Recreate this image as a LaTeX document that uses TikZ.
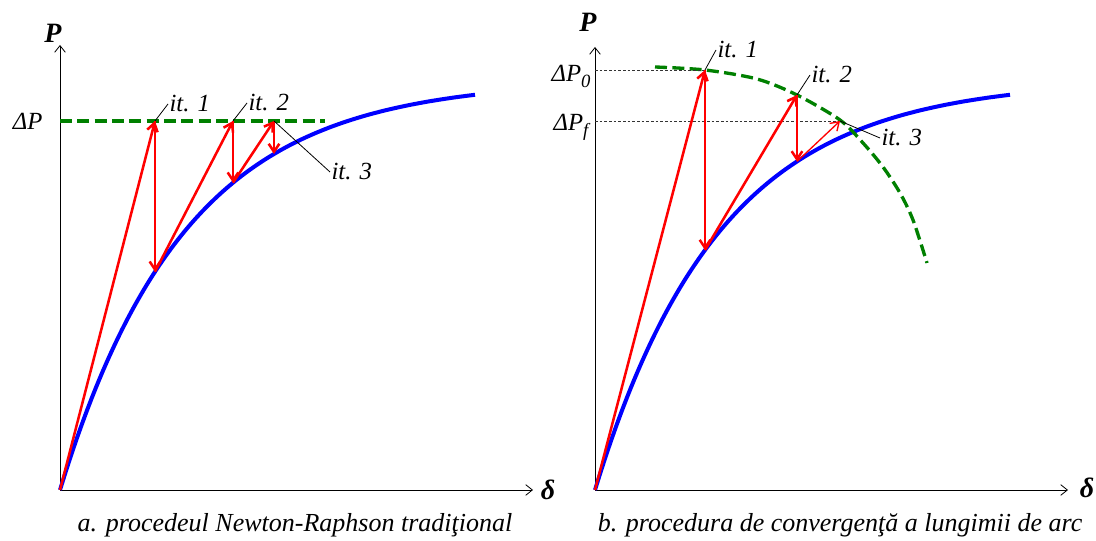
\documentclass[tikz,border=0pt]{standalone}
\usepackage{fontspec}
\setmainfont{Liberation Serif}
\usetikzlibrary{arrows.meta}

\definecolor{curveblue}{RGB}{0,0,255}
\definecolor{iterred}{RGB}{255,0,0}
\definecolor{levelgreen}{RGB}{0,128,0}

% load-displacement response used in both panels
\newcommand{\loadat}[1]{410*(1-exp(-(#1)/125))}
\newcommand{\lowidx}[1]{\raisebox{-0.45ex}{\fontsize{14}{14}\selectfont #1}}

\tikzset{
  axis/.style={line width=0.6pt, -{Straight Barb[length=5pt,width=8pt]}},
  response/.style={color=curveblue, line width=3pt, samples=80, smooth, domain=0:415},
  iter/.style={color=iterred, line width=1.9pt, -{Straight Barb[length=6pt,width=8pt]}},
  level/.style={color=levelgreen, line width=2.5pt, dash pattern=on 9pt off 4pt},
  leader/.style={line width=0.6pt},
  guide/.style={line width=0.5pt, black!80, dash pattern=on 2pt off 1.5pt},
  lbl/.style={font=\fontsize{18.5}{20}\selectfont\itshape, inner sep=1pt},
  axlbl/.style={font=\fontsize{21}{22}\selectfont\bfseries\itshape, inner sep=0pt},
  caption/.style={font=\fontsize{19.5}{22}\selectfont\itshape, inner sep=0pt},
}

\begin{document}
\begin{tikzpicture}[x=0.75pt, y=0.75pt]
  \useasboundingbox (0,0) rectangle (1096,541);

  % a. classic Newton-Raphson, constant load step
  \begin{scope}[shift={(60,51)}]
    \coordinate (oa) at (0,0);
    \coordinate (ya) at (0,445);
    \coordinate (xa) at (473,0);
    \draw[axis] (oa) -- (ya);
    \draw[axis] (oa) -- (xa);
    \node[axlbl] (pa) at (-7,457) {P};
    \node[axlbl] (da) at (488,0) {δ};
    \draw[response] plot (\x, {\loadat{\x}});
    \node[lbl, anchor=base east] (dpa) at (-16,360) {ΔP};
    \coordinate (la) at (0,369);
    \coordinate (lb) at (265,369);
    \draw[level] (la) -- (lb);
    % iterations
    \coordinate (a1) at (95,369);
    \coordinate (b1) at (95,{\loadat{95}});
    \coordinate (a2) at (173,369);
    \coordinate (b2) at (173,{\loadat{173}});
    \coordinate (a3) at (214,369);
    \coordinate (b3) at (214,{\loadat{214}});
    \draw[iter] (oa) -- (a1);
    \draw[iter] (a1) -- (b1);
    \draw[iter] (b1) -- (a2);
    \draw[iter] (a2) -- (b2);
    \draw[iter] (b2) -- (a3);
    \draw[iter] (a3) -- (b3);
    \node[lbl, anchor=west] (t1) at (108,386) {it. 1};
    \node[lbl, anchor=west] (t2) at (187,387) {it. 2};
    \node[lbl, anchor=west] (t3) at (270,318) {it. 3};
    \draw[leader] (a1) -- (t1.west);
    \draw[leader] (a2) -- (t2.west);
    \draw[leader] (a3) -- (t3.west);
    \node[caption] (capa) at (235,-35) {a. procedeul Newton-Raphson tradiţional};
  \end{scope}

  % b. arc-length control
  \begin{scope}[shift={(595,51)}]
    \coordinate (ob) at (0,0);
    \coordinate (yb) at (0,443);
    \coordinate (xb) at (473,0);
    \draw[axis] (ob) -- (yb);
    \draw[axis] (ob) -- (xb);
    \node[axlbl] (pb) at (-7,468) {P};
    \node[axlbl] (db) at (492,2) {δ};
    \draw[response] plot (\x, {\loadat{\x}});
    \node[lbl, anchor=base east] (dp0) at (-3,408) {ΔP\lowidx{0}};
    \node[lbl, anchor=base east] (dpf) at (-5,359) {ΔP\lowidx{f}};
    % arc of constant length
    \draw[level] plot[smooth] coordinates {(60,423) (110,420) (162,411) (202,395)
      (245,370) (268,347) (288,323) (305,297) (318,270) (332,227)};
    % iterations
    \coordinate (c1) at (110,420);
    \coordinate (e1) at (110,{\loadat{110}});
    \coordinate (c2) at (202,395);
    \coordinate (e2) at (202,{\loadat{202}});
    \coordinate (c3) at (245,369);
    \draw[guide] (0,420) -- (c1);
    \draw[guide] (0,369) -- (c3);
    \draw[iter] (ob) -- (c1);
    \draw[iter] (c1) -- (e1);
    \draw[iter] (e1) -- (c2);
    \draw[iter] (c2) -- (e2);
    \draw[iter, line width=1pt] (e2) -- (c3);
    \node[lbl, anchor=west] (u1) at (121,440) {it. 1};
    \node[lbl, anchor=west] (u2) at (215,415) {it. 2};
    \node[lbl, anchor=west] (u3) at (285,352) {it. 3};
    \draw[leader] (c1) -- (u1.west);
    \draw[leader] (c2) -- (u2.west);
    \draw[leader] (c3) -- (u3.west);
    \node[caption] (capb) at (245,-35) {b. procedura de convergenţă a lungimii de arc};
  \end{scope}
\end{tikzpicture}
\end{document}
